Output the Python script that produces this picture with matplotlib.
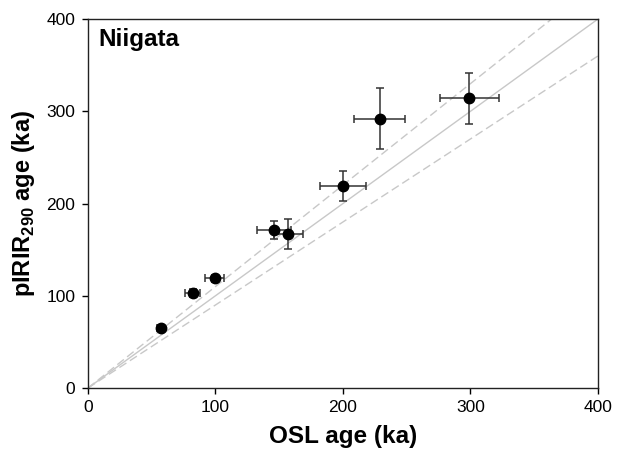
import numpy as np
import matplotlib
matplotlib.use('Agg')
import matplotlib.pyplot as plt

plt.rcParams['font.family'] = ['Liberation Sans', 'DejaVu Sans']
plt.rcParams['mathtext.fontset'] = 'custom'
plt.rcParams['mathtext.rm'] = 'Liberation Sans'
plt.rcParams['mathtext.bf'] = 'Liberation Sans:bold'

# OSL vs pIRIR290 ages (ka), Niigata
osl_age = [57, 82, 99.5, 146, 157, 200, 229, 299]
osl_err = [3, 6, 7.5, 13.5, 11.5, 18, 20, 23]
pirir_age = [65, 103, 119, 171, 167, 219, 292, 314]
pirir_err = [3, 4, 4, 10, 16, 16, 33, 28]

fig = plt.figure(figsize=(6.17, 4.53), dpi=100)
ax = fig.add_axes([0.1426, 0.1435, 0.8266, 0.8145])

xl = np.array([0., 400.])
ax.plot(xl, xl, '-', color='#c8c8c8', lw=1.0, zorder=1)
ax.plot(xl, 1.1 * xl, '--', color='#c8c8c8', lw=1.0, dashes=(6, 3), zorder=1)
ax.plot(xl, 0.9 * xl, '--', color='#c8c8c8', lw=1.0, dashes=(6, 3), zorder=1)

ax.errorbar(osl_age, pirir_age, xerr=osl_err, yerr=pirir_err, fmt='o',
            color='black', ms=7.5, ecolor='#333333', elinewidth=1.1,
            capsize=3, capthick=1.1, zorder=3)

ax.set_xlim(0, 400)
ax.set_ylim(0, 400)
ax.set_xticks([0, 100, 200, 300, 400])
ax.set_yticks([0, 100, 200, 300, 400])
ax.tick_params(direction='out', length=4, width=1, labelsize=12.5, pad=5)
for s in ax.spines.values():
    s.set_linewidth(1.0)
    s.set_color('#222222')

ax.set_xlabel('OSL age (ka)', fontsize=17.5, fontweight='bold', labelpad=7)
ax.set_ylabel(r'pIRIR$_{\mathbf{290}}$ age (ka)', fontsize=17,
              fontweight='bold', labelpad=7)
ax.text(0.02, 0.975, 'Niigata', transform=ax.transAxes, fontsize=17.5,
        fontweight='bold', va='top', ha='left')

fig.savefig('out.png', dpi=100)
